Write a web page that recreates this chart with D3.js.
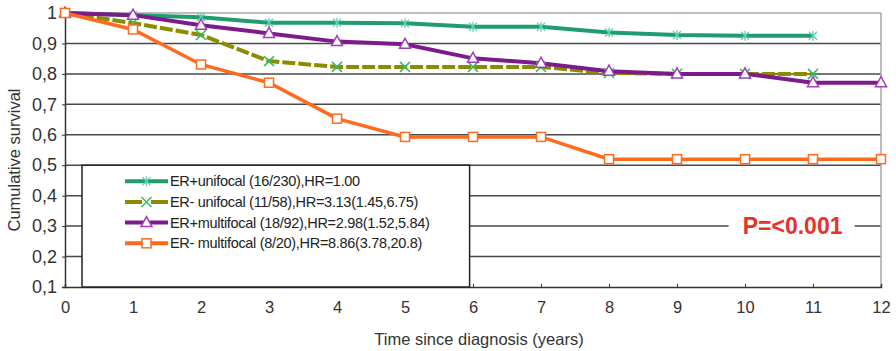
<!DOCTYPE html>
<html>
<head>
<meta charset="utf-8">
<script src="https://d3js.org/d3.v7.min.js"></script>
<style>
  body { margin: 0; background: #fff; }
  text { font-family: "Liberation Sans", Arial, sans-serif; }
</style>
</head>
<body>
<div id="chart-area"></div>
<script>
// values, one per year
var years = [0, 1, 2, 3, 4, 5, 6, 7, 8, 9, 10, 11, 12];
var erPosUnifocal = [1, 0.993, 0.986, 0.968, 0.968, 0.966, 0.955, 0.955, 0.936, 0.928, 0.925, 0.925];
var erNegUnifocal = [1, 0.967, 0.928, 0.842, 0.823, 0.823, 0.823, 0.823, 0.803, 0.80, 0.80, 0.80];
var erPosMultifocal = [1, 0.993, 0.96, 0.933, 0.906, 0.897, 0.851, 0.835, 0.809, 0.80, 0.80, 0.771, 0.771];
var erNegMultifocal = [1, 0.946, 0.831, 0.771, 0.653, 0.593, 0.593, 0.593, 0.52, 0.52, 0.52, 0.52, 0.52];

var seriesLabels = [
    "ER+unifocal (16/230),HR=1.00",
    "ER- unifocal (11/58),HR=3.13(1.45,6.75)",
    "ER+multifocal (18/92),HR=2.98(1.52,5.84)",
    "ER- multifocal (8/20),HR=8.86(3.78,20.8)"
];
var yTicks = [0.1, 0.2, 0.3, 0.4, 0.5, 0.6, 0.7, 0.8, 0.9, 1];
var pValueText = "P=<0.001";

var seriesStyles = [
    {line: "#1f9d6f", marker: "star", markerColor: "#62cdb6", dash: null},
    {line: "#8c8c00", marker: "cross", markerColor: "#3cba62", dash: "13,3"},
    {line: "#7d1a8c", marker: "triangle", markerColor: "#a040b8", dash: null},
    {line: "#ff6a1f", marker: "square", markerColor: "#ff6a1f", dash: null}
];

SurvivalChart = function(_parentElement, _series){
    this.parentElement = _parentElement;
    this.series = _series;
    this.initVis();
}

SurvivalChart.prototype.initVis = function(){
    var vis = this;

    vis.margin = {top: 13, right: 15, bottom: 64, left: 65};
    vis.width = 896 - vis.margin.left - vis.margin.right;
    vis.height = 351 - vis.margin.top - vis.margin.bottom;

    vis.svg = d3.select("#" + vis.parentElement).append("svg")
        .attr("width", 896)
        .attr("height", 351);

    vis.g = vis.svg.append("g")
        .attr("transform", "translate(" + vis.margin.left + "," + vis.margin.top + ")");

    vis.x = d3.scaleLinear().domain([0, 12]).range([0, vis.width]);
    vis.y = d3.scaleLinear().domain([0.1, 1]).range([vis.height, 0]);

    vis.updateVis();
}

SurvivalChart.prototype.updateVis = function(){
    var vis = this;

    // gridlines (top one is lighter, like the frame)
    vis.g.selectAll(".grid")
        .data(yTicks.slice(1))
        .enter().append("line")
        .attr("class", "grid")
        .attr("x1", 0).attr("x2", vis.width)
        .attr("y1", function(d){ return vis.y(d); })
        .attr("y2", function(d){ return vis.y(d); })
        .attr("stroke", function(d){ return d == 1 ? "#a8a8a8" : "#4a4a4a"; })
        .attr("stroke-width", 1.5);

    // right frame
    vis.g.append("line")
        .attr("x1", vis.width).attr("x2", vis.width)
        .attr("y1", 0).attr("y2", vis.height)
        .attr("stroke", "#a8a8a8").attr("stroke-width", 1.5);

    // y axis
    var yAxis = d3.axisLeft(vis.y)
        .tickValues(yTicks)
        .tickSize(3)
        .tickFormat(function(d){ return d == 1 ? "1" : d3.format(".1f")(d).replace(".", ","); });
    var yg = vis.g.append("g").call(yAxis);
    yg.select(".domain").attr("stroke", "#333").attr("stroke-width", 1.5);
    yg.selectAll(".tick line").attr("stroke", "#333");
    yg.selectAll("text")
        .style("font-size", "18px")
        .style("font-family", "'Liberation Sans', Arial, sans-serif")
        .attr("fill", "#333").attr("dx", -2);

    // x axis
    var xAxis = d3.axisBottom(vis.x)
        .tickValues(years)
        .tickSize(-3)
        .tickPadding(14)
        .tickFormat(d3.format("d"));
    var xg = vis.g.append("g")
        .attr("transform", "translate(0," + vis.height + ")")
        .call(xAxis);
    xg.select(".domain").attr("stroke", "#333").attr("stroke-width", 1.5);
    xg.selectAll(".tick line").attr("stroke", "#333");
    xg.selectAll("text")
        .style("font-size", "16.5px")
        .style("font-family", "'Liberation Sans', Arial, sans-serif")
        .attr("fill", "#333");

    // axis titles
    vis.svg.append("text")
        .attr("x", 479).attr("y", 345)
        .attr("text-anchor", "middle")
        .attr("font-size", 16.5).attr("fill", "#333")
        .text("Time since diagnosis (years)");

    vis.svg.append("text")
        .attr("transform", "translate(20,160) rotate(-90)")
        .attr("text-anchor", "middle")
        .attr("font-size", 16.5).attr("fill", "#333")
        .text("Cumulative survival");

    // legend box
    var legend = vis.svg.append("g")
        .attr("transform", "translate(" + (vis.margin.left + vis.x(0.25)) + "," + (vis.margin.top + vis.y(0.5)) + ")");
    legend.append("rect")
        .attr("width", vis.x(5.95) - vis.x(0.25))
        .attr("height", vis.y(0.1) - vis.y(0.5))
        .attr("fill", "#fff")
        .attr("stroke", "#222").attr("stroke-width", 1.5);

    // p-value label
    var pG = vis.g.append("g")
        .attr("transform", "translate(" + vis.x(10.7) + "," + vis.y(0.3) + ")");
    pG.append("rect")
        .attr("x", -64).attr("y", -14).attr("width", 126).attr("height", 28)
        .attr("fill", "#fff");
    pG.append("text")
        .attr("text-anchor", "middle")
        .attr("dy", "0.36em")
        .attr("font-size", 23).attr("font-weight", "bold")
        .attr("fill", "#e8322a")
        .text(pValueText);

    var line = d3.line()
        .x(function(d){ return vis.x(d.t); })
        .y(function(d){ return vis.y(d.v); });

    var curves = vis.series.map(function(values){
        return values.map(function(v, i){ return {t: years[i], v: v}; });
    });

    curves.forEach(function(pts, i){
        var st = seriesStyles[i];
        vis.g.append("path")
            .datum(pts)
            .attr("d", line)
            .attr("fill", "none")
            .attr("stroke", st.line)
            .attr("stroke-width", i == 3 ? 3.5 : 4)
            .attr("stroke-dasharray", st.dash);
    });

    curves.forEach(function(pts, i){
        vis.g.selectAll(".marker-" + i)
            .data(pts)
            .enter().append("g")
            .attr("class", "marker-" + i)
            .attr("transform", function(d){ return "translate(" + vis.x(d.t) + "," + vis.y(d.v) + ")"; })
            .each(function(){ drawMarker(d3.select(this), seriesStyles[i]); });
    });

    // legend entries
    seriesLabels.forEach(function(label, i){
        var st = seriesStyles[i];
        var row = legend.append("g")
            .attr("transform", "translate(0," + (16 + i * 20.7) + ")");
        row.append("line")
            .attr("x1", 43).attr("x2", 86)
            .attr("stroke", st.line).attr("stroke-width", 4)
            .attr("stroke-dasharray", st.dash ? "17,9,17" : null);
        drawMarker(row.append("g").attr("transform", "translate(64.5,0)"), st);
        row.append("text")
            .attr("x", 88).attr("dy", "0.35em")
            .attr("font-size", 14.5).attr("fill", "#222")
            .attr("letter-spacing", -0.3)
            .text(label);
    });
}

function drawMarker(sel, st){
    if (st.marker == "star") {
        sel.append("path")
            .attr("d", "M-4,-4L4,4M-4,4L4,-4M0,-5L0,5")
            .attr("stroke", st.markerColor).attr("stroke-width", 1.3).attr("fill", "none");
    } else if (st.marker == "cross") {
        sel.append("path")
            .attr("d", "M-5,-5L5,5M-5,5L5,-5")
            .attr("stroke", st.markerColor).attr("stroke-width", 1.5).attr("fill", "none");
    } else if (st.marker == "triangle") {
        sel.append("path")
            .attr("d", "M0,-6L5.5,4L-5.5,4Z")
            .attr("stroke", st.markerColor).attr("stroke-width", 1.5).attr("fill", "#fff");
    } else {
        sel.append("rect")
            .attr("x", -4.5).attr("y", -4.5).attr("width", 9).attr("height", 9)
            .attr("stroke", st.markerColor).attr("stroke-width", 1.5).attr("fill", "#fff");
    }
}

var chart = new SurvivalChart("chart-area", [erPosUnifocal, erNegUnifocal, erPosMultifocal, erNegMultifocal]);
</script>
</body>
</html>
